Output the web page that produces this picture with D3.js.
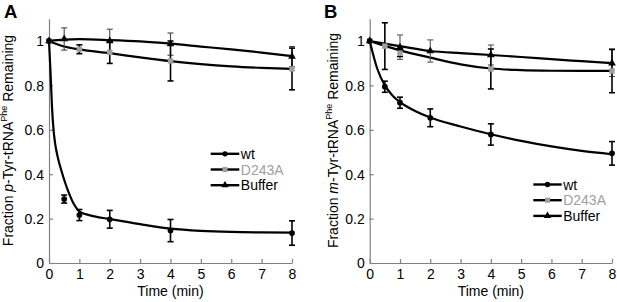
<!DOCTYPE html>
<html><head><meta charset="utf-8">
<script src="https://cdn.jsdelivr.net/npm/d3@7"></script>
<style>body{margin:0;background:#fff}svg{display:block}text{font-family:"Liberation Sans",Arial,sans-serif}</style>
</head><body>
<svg id="c" width="617" height="302"></svg>
<script>
// ---- data ----
const xTicks = [0,1,2,3,4,5,6,7,8];
const yTicks = [0,0.2,0.4,0.6,0.8,1];
const yTickLabels = ["0","0.2","0.4","0.6","0.8","1"];
const seriesNames = ["wt","D243A","Buffer"];

// Panel A (p-Tyr)
const A_wt_t = [0,0.5,1,2,4,8];
const A_wt_v = [1,0.288,0.216,0.197,0.146,0.135];
const A_wt_e = [0,0.018,0.025,0.04,0.05,0.055];
const A_d_t = [0,1,2,4,8];
const A_d_v = [1,0.963,0.949,0.91,0.874];
const A_d_e = [0,0.02,0.05,0.09,0.094];
const A_b_t = [0,0.5,2,4,8];
const A_b_v = [1,1.009,1.0,0.986,0.93];
const A_b_e = [0,0.05,0.053,0.05,0.045];
const A_wtFit_t = [0,0.05,0.1,0.15,0.2,0.3,0.4,0.5,0.6,0.7,0.8,0.9,1,1.5,2,3,4,5,6,7,8];
const A_wtFit_v = [1,0.86,0.70,0.6,0.54,0.47,0.42,0.375,0.335,0.30,0.27,0.248,0.232,0.21,0.198,0.175,0.155,0.145,0.14,0.138,0.137];
const A_dFit_t = [0,0.5,1,2,3,4,5,6,7,8];
const A_dFit_v = [1,0.975,0.962,0.945,0.926,0.909,0.896,0.886,0.879,0.874];
const A_bFit_t = [0,0.5,1,2,3,4,5,6,7,8];
const A_bFit_v = [1,1.006,1.008,1.004,0.998,0.988,0.975,0.962,0.948,0.932];

// Panel B (m-Tyr)
const B_wt_t = [0,0.5,1,2,4,8];
const B_wt_v = [1,0.794,0.722,0.654,0.579,0.494];
const B_wt_e = [0,0.025,0.025,0.04,0.048,0.053];
const B_d_t = [0,0.5,1,4,8];
const B_d_v = [1,0.977,0.945,0.874,0.865];
const B_d_e = [0,0.105,0.015,0.09,0.098];
const B_b_t = [0,1,2,4,8];
const B_b_v = [1,0.972,0.955,0.937,0.9];
const B_b_e = [0,0.055,0.05,0.045,0.06];
const B_wtFit_t = [0,0.25,0.5,0.75,1,1.5,2,3,4,5,6,7,8];
const B_wtFit_v = [1,0.875,0.80,0.755,0.725,0.685,0.655,0.615,0.58,0.55,0.525,0.505,0.49];
const B_dFit_t = [0,0.5,1,2,3,4,5,6,7,8];
const B_dFit_v = [1,0.978,0.958,0.925,0.895,0.876,0.869,0.866,0.865,0.865];
const B_bFit_t = [0,0.5,1,2,3,4,5,6,7,8];
const B_bFit_v = [1,0.988,0.977,0.955,0.945,0.937,0.928,0.918,0.909,0.9];

// ---- drawing ----
const svg = d3.select("#c");
const zip = (t,v,e) => t.map((x,i)=>({t:x,v:v[i],e:e?e[i]:0}));

function panel(cfg){
  const x = d3.scaleLinear([0,8],[cfg.x0,cfg.x1]);
  const y = d3.scaleLinear([0,1.1],[263,18.8]);
  const g = svg.append("g");
  const ax = g.append("g").attr("transform","translate(0,263)")
    .call(d3.axisBottom(x).tickValues(xTicks).tickFormat(d3.format("d")).tickSizeInner(-4).tickSizeOuter(0).tickPadding(6));
  const ay = g.append("g").attr("transform",`translate(${cfg.x0},0)`)
    .call(d3.axisLeft(y).tickValues(yTicks).tickFormat((d,i)=>yTickLabels[i]).tickSizeInner(-4).tickSizeOuter(0).tickPadding(5));
  [ax,ay].forEach(a=>{
    a.selectAll("path,line").attr("stroke","#808080").attr("stroke-width",1.2);
    a.selectAll("text").attr("fill","#000").attr("font-size",14).attr("font-family",'"Liberation Sans",Arial,sans-serif');
  });
  ay.selectAll("text").attr("dy","0.35em");
  // axis titles
  g.append("text").attr("x",(cfg.x0+cfg.x1)/2).attr("y",296).attr("text-anchor","middle").attr("font-size",14).text("Time (min)");
  const yl = g.append("text").attr("transform",`translate(${cfg.ylx},140.5) rotate(-90)`).attr("text-anchor","middle").attr("font-size",14);
  yl.append("tspan").text("Fraction ");
  yl.append("tspan").attr("font-style","italic").text(cfg.prefix);
  yl.append("tspan").text("-Tyr-tRNA");
  yl.append("tspan").attr("font-size",9).attr("dy",-6).text("Phe");
  yl.append("tspan").attr("dy",6).text(" Remaining");
  g.append("text").attr("x",cfg.lx).attr("y",18.3).attr("font-size",18.5).attr("font-weight","bold").text(cfg.letter);

  const line = d3.line().x(d=>x(d.t)).y(d=>y(d.v)).curve(d3.curveMonotoneX);
  cfg.fits.forEach(f=>{
    g.append("path").attr("d",line(zip(f[0],f[1]))).attr("fill","none").attr("stroke","#000").attr("stroke-width",2.2);
  });
  // error bars
  cfg.pts.forEach(s=>{
    const d = zip(s.t,s.v,s.e).filter(p=>p.e>0);
    const eb = g.append("g").attr("stroke",s.ec).attr("stroke-width",s.ew);
    d.forEach(p=>{
      eb.append("line").attr("x1",x(p.t)).attr("x2",x(p.t)).attr("y1",y(p.v-p.e)).attr("y2",y(p.v+p.e));
      eb.append("line").attr("x1",x(p.t)-3).attr("x2",x(p.t)+3).attr("y1",y(p.v-p.e)).attr("y2",y(p.v-p.e));
      eb.append("line").attr("x1",x(p.t)-3).attr("x2",x(p.t)+3).attr("y1",y(p.v+p.e)).attr("y2",y(p.v+p.e));
    });
  });
  cfg.pts.forEach(s=>{
    const d = zip(s.t,s.v,s.e);
    g.append("g").selectAll("path").data(d).join("path")
      .attr("transform",p=>`translate(${x(p.t)},${y(p.v)})`)
      .attr("d",d3.symbol(s.sym,s.size)).attr("fill",s.fill);
  });
  // legend
  const lg = g.append("g");
  const syms = [[d3.symbolCircle,22,"#000"],[d3.symbolSquare,26,"#a0a0a0"],[d3.symbolTriangle,24,"#000"]];
  seriesNames.forEach((n,i)=>{
    const yy = cfg.ly[i];
    lg.append("line").attr("x1",cfg.lgx0).attr("x2",cfg.lgx1).attr("y1",yy).attr("y2",yy).attr("stroke","#000").attr("stroke-width",2.4);
    lg.append("path").attr("transform",`translate(${(cfg.lgx0+cfg.lgx1)/2},${yy})`).attr("d",d3.symbol(syms[i][0],syms[i][1])).attr("fill",syms[i][2]);
    lg.append("text").attr("x",cfg.lgx1+1.5).attr("y",yy).attr("dy","0.36em").attr("font-size",14)
      .attr("fill",i===1?"#a0a0a0":"#000").text(n);
  });
}

panel({x0:49,x1:292,ylx:13,prefix:"p",letter:"A",lx:4,
  fits:[[A_wtFit_t,A_wtFit_v],[A_dFit_t,A_dFit_v],[A_bFit_t,A_bFit_v]],
  pts:[
    {t:A_b_t,v:A_b_v,e:A_b_e,sym:d3.symbolTriangle,size:26,fill:"#000",ec:"#444",ew:1.1},
    {t:A_d_t,v:A_d_v,e:A_d_e,sym:d3.symbolSquare,size:30,fill:"#a0a0a0",ec:"#000",ew:1.6},
    {t:A_wt_t,v:A_wt_v,e:A_wt_e,sym:d3.symbolCircle,size:26,fill:"#000",ec:"#000",ew:1.6}],
  lgx0:210.7,lgx1:239.3,ly:[153.8,169.5,185.2]});
panel({x0:369.7,x1:612,ylx:337.5,prefix:"m",letter:"B",lx:324,
  fits:[[B_wtFit_t,B_wtFit_v],[B_dFit_t,B_dFit_v],[B_bFit_t,B_bFit_v]],
  pts:[
    {t:B_b_t,v:B_b_v,e:B_b_e,sym:d3.symbolTriangle,size:26,fill:"#000",ec:"#555",ew:1.1},
    {t:B_d_t,v:B_d_v,e:B_d_e,sym:d3.symbolSquare,size:30,fill:"#a0a0a0",ec:"#000",ew:1.6},
    {t:B_wt_t,v:B_wt_v,e:B_wt_e,sym:d3.symbolCircle,size:26,fill:"#000",ec:"#000",ew:1.6}],
  lgx0:533.3,lgx1:561.7,ly:[184.5,200.2,215.9]});
</script>
</body></html>
